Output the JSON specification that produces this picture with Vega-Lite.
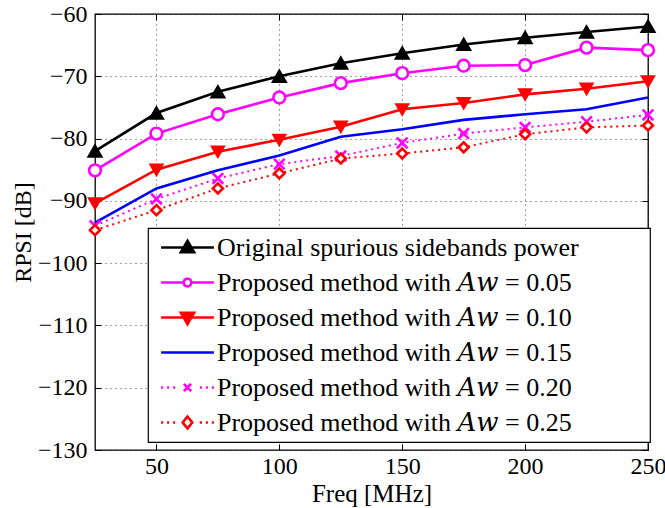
{
  "$schema": "https://vega.github.io/schema/vega-lite/v6.json",
  "autosize": "none",
  "width": 553,
  "height": 436,
  "padding": {"left": 95, "top": 14, "right": 17, "bottom": 58},
  "config": {
    "font": "Liberation Serif",
    "view": {"stroke": "black", "strokeWidth": 1.3},
    "axis": {"labelFont": "Liberation Serif", "titleFont": "Liberation Serif", "labelFontSize": 24, "titleFontSize": 24, "titleFontWeight": "normal", "labelColor": "black", "titleColor": "black", "domain": false, "tickColor": "black", "tickWidth": 1, "gridColor": "black", "gridOpacity": 0.75, "gridDash": [1, 4], "gridWidth": 1, "labelFlush": false}
  },
  "data": {"values": [
    {"f": 25, "v": -82.0, "s": "Original spurious sidebands power"},
    {"f": 50, "v": -75.9, "s": "Original spurious sidebands power"},
    {"f": 75, "v": -72.5, "s": "Original spurious sidebands power"},
    {"f": 100, "v": -70.0, "s": "Original spurious sidebands power"},
    {"f": 125, "v": -67.9, "s": "Original spurious sidebands power"},
    {"f": 150, "v": -66.3, "s": "Original spurious sidebands power"},
    {"f": 175, "v": -64.9, "s": "Original spurious sidebands power"},
    {"f": 200, "v": -63.8, "s": "Original spurious sidebands power"},
    {"f": 225, "v": -62.9, "s": "Original spurious sidebands power"},
    {"f": 250, "v": -62.0, "s": "Original spurious sidebands power"},
    {"f": 25, "v": -85.1, "s": "Proposed method with 𝐴𝑤 = 0.05"},
    {"f": 50, "v": -79.2, "s": "Proposed method with 𝐴𝑤 = 0.05"},
    {"f": 75, "v": -76.1, "s": "Proposed method with 𝐴𝑤 = 0.05"},
    {"f": 100, "v": -73.4, "s": "Proposed method with 𝐴𝑤 = 0.05"},
    {"f": 125, "v": -71.1, "s": "Proposed method with 𝐴𝑤 = 0.05"},
    {"f": 150, "v": -69.5, "s": "Proposed method with 𝐴𝑤 = 0.05"},
    {"f": 175, "v": -68.3, "s": "Proposed method with 𝐴𝑤 = 0.05"},
    {"f": 200, "v": -68.2, "s": "Proposed method with 𝐴𝑤 = 0.05"},
    {"f": 225, "v": -65.4, "s": "Proposed method with 𝐴𝑤 = 0.05"},
    {"f": 250, "v": -65.8, "s": "Proposed method with 𝐴𝑤 = 0.05"},
    {"f": 25, "v": -90.4, "s": "Proposed method with 𝐴𝑤 = 0.10"},
    {"f": 50, "v": -85.0, "s": "Proposed method with 𝐴𝑤 = 0.10"},
    {"f": 75, "v": -82.1, "s": "Proposed method with 𝐴𝑤 = 0.10"},
    {"f": 100, "v": -80.2, "s": "Proposed method with 𝐴𝑤 = 0.10"},
    {"f": 125, "v": -78.1, "s": "Proposed method with 𝐴𝑤 = 0.10"},
    {"f": 150, "v": -75.3, "s": "Proposed method with 𝐴𝑤 = 0.10"},
    {"f": 175, "v": -74.3, "s": "Proposed method with 𝐴𝑤 = 0.10"},
    {"f": 200, "v": -72.9, "s": "Proposed method with 𝐴𝑤 = 0.10"},
    {"f": 225, "v": -72.0, "s": "Proposed method with 𝐴𝑤 = 0.10"},
    {"f": 250, "v": -70.8, "s": "Proposed method with 𝐴𝑤 = 0.10"},
    {"f": 25, "v": -93.5, "s": "Proposed method with 𝐴𝑤 = 0.15"},
    {"f": 50, "v": -88.0, "s": "Proposed method with 𝐴𝑤 = 0.15"},
    {"f": 75, "v": -85.1, "s": "Proposed method with 𝐴𝑤 = 0.15"},
    {"f": 100, "v": -82.7, "s": "Proposed method with 𝐴𝑤 = 0.15"},
    {"f": 125, "v": -79.7, "s": "Proposed method with 𝐴𝑤 = 0.15"},
    {"f": 150, "v": -78.5, "s": "Proposed method with 𝐴𝑤 = 0.15"},
    {"f": 175, "v": -77.0, "s": "Proposed method with 𝐴𝑤 = 0.15"},
    {"f": 200, "v": -76.1, "s": "Proposed method with 𝐴𝑤 = 0.15"},
    {"f": 225, "v": -75.3, "s": "Proposed method with 𝐴𝑤 = 0.15"},
    {"f": 250, "v": -73.4, "s": "Proposed method with 𝐴𝑤 = 0.15"},
    {"f": 25, "v": -94.0, "s": "Proposed method with 𝐴𝑤 = 0.20"},
    {"f": 50, "v": -89.7, "s": "Proposed method with 𝐴𝑤 = 0.20"},
    {"f": 75, "v": -86.4, "s": "Proposed method with 𝐴𝑤 = 0.20"},
    {"f": 100, "v": -84.1, "s": "Proposed method with 𝐴𝑤 = 0.20"},
    {"f": 125, "v": -82.8, "s": "Proposed method with 𝐴𝑤 = 0.20"},
    {"f": 150, "v": -80.7, "s": "Proposed method with 𝐴𝑤 = 0.20"},
    {"f": 175, "v": -79.2, "s": "Proposed method with 𝐴𝑤 = 0.20"},
    {"f": 200, "v": -78.2, "s": "Proposed method with 𝐴𝑤 = 0.20"},
    {"f": 225, "v": -77.3, "s": "Proposed method with 𝐴𝑤 = 0.20"},
    {"f": 250, "v": -76.2, "s": "Proposed method with 𝐴𝑤 = 0.20"},
    {"f": 25, "v": -94.7, "s": "Proposed method with 𝐴𝑤 = 0.25"},
    {"f": 50, "v": -91.5, "s": "Proposed method with 𝐴𝑤 = 0.25"},
    {"f": 75, "v": -88.0, "s": "Proposed method with 𝐴𝑤 = 0.25"},
    {"f": 100, "v": -85.6, "s": "Proposed method with 𝐴𝑤 = 0.25"},
    {"f": 125, "v": -83.2, "s": "Proposed method with 𝐴𝑤 = 0.25"},
    {"f": 150, "v": -82.4, "s": "Proposed method with 𝐴𝑤 = 0.25"},
    {"f": 175, "v": -81.4, "s": "Proposed method with 𝐴𝑤 = 0.25"},
    {"f": 200, "v": -79.3, "s": "Proposed method with 𝐴𝑤 = 0.25"},
    {"f": 225, "v": -78.2, "s": "Proposed method with 𝐴𝑤 = 0.25"},
    {"f": 250, "v": -77.9, "s": "Proposed method with 𝐴𝑤 = 0.25"}
  ]},
  "layer": [
    {
      "transform": [{"filter": "indexof(['er','05','10','15'], slice(datum.s, -2)) >= 0"}],
      "mark": {"type": "line", "strokeWidth": 2.6},
      "encoding": {
        "x": {"field": "f", "type": "quantitative", "scale": {"domain": [25, 250], "nice": false, "zero": false}, "axis": {"orient": "bottom", "title": "Freq [MHz]", "values": [50, 100, 150, 200, 250], "grid": true, "tickSize": -6, "labelPadding": 10, "titlePadding": 3, "titleFontSize": 25}},
        "y": {"field": "v", "type": "quantitative", "scale": {"domain": [-130, -60], "nice": false, "zero": false}, "axis": {"orient": "left", "title": "RPSI [dB]", "values": [-130, -120, -110, -100, -90, -80, -70, -60], "grid": true, "tickSize": -6, "labelPadding": 14, "titlePadding": 2}},
        "color": {
          "field": "s", "type": "nominal",
          "scale": {"domain": ["Original spurious sidebands power", "Proposed method with 𝐴𝑤 = 0.05", "Proposed method with 𝐴𝑤 = 0.10", "Proposed method with 𝐴𝑤 = 0.15", "Proposed method with 𝐴𝑤 = 0.20", "Proposed method with 𝐴𝑤 = 0.25"], "range": ["#000000", "#ff00ff", "#ff0000", "#0000ff", "#ff00ff", "#ff0000"]},
          "legend": {
            "title": null, "orient": "none", "legendX": 53, "legendY": 214,
            "fillColor": "white", "strokeColor": "black", "padding": 6, "rowPadding": 8,
            "symbolOffset": 20, "labelOffset": 16, "symbolSize": 576,
            "labelFont": "Liberation Serif, DejaVu Serif", "labelFontSize": 26, "labelColor": "black", "labelLimit": 800,
            "labelExpr": "datum.label + '\u2003\u2003\u2005\u2005\u200b'",
            "encode": {
              "legend": {"update": {"strokeWidth": {"value": 1.2}}},
              "symbols": {"update": {
                "shape": {"signal": "['M-2.2,0H2.2M0,-0.55L0.55,0.4L-0.55,0.4Z','M-2.2,0H-0.32M0.32,0H2.2M-0.32,0A0.32,0.32,0,1,0,0.32,0A0.32,0.32,0,1,0,-0.32,0Z','M-2.2,0H2.2M-0.55,-0.4L0.55,-0.4L0,0.55Z','M-2.2,0H2.2','M-2.2,0H-2.03M-1.7,0H-1.53M-1.2,0H-1.03M1.03,0H1.2M1.53,0H1.7M2.03,0H2.2M-0.3,-0.3L0.3,0.3M-0.3,0.3L0.3,-0.3','M-2.2,0H-2.03M-1.7,0H-1.53M-1.2,0H-1.03M1.03,0H1.2M1.53,0H1.7M2.03,0H2.2M0,-0.5L0.4,0L0,0.5L-0.4,0Z'][indexof(['er','05','10','15','20','25'], slice(datum.value, -2))]"},
                "fill": {"signal": "['#000000','#ffffff','#ff0000','transparent','transparent','#ffffff'][indexof(['er','05','10','15','20','25'], slice(datum.value, -2))]"},
                "stroke": {"signal": "['#000000','#ff00ff','#ff0000','#0000ff','#ff00ff','#ff0000'][indexof(['er','05','10','15','20','25'], slice(datum.value, -2))]"},
                "strokeWidth": {"value": 2.6},
                "strokeDash": {"value": [1, 0]},
                "size": {"value": 576},
                "opacity": {"value": 1}
              }}
            }
          }
        }
      }
    },
    {
      "transform": [{"filter": "indexof(['20','25'], slice(datum.s, -2)) >= 0"}],
      "mark": {"type": "line", "strokeWidth": 2, "strokeDash": [2, 4]},
      "encoding": {
        "x": {"field": "f", "type": "quantitative", "axis": null},
        "y": {"field": "v", "type": "quantitative", "axis": null},
        "color": {"field": "s", "type": "nominal"}
      }
    },
    {
      "transform": [{"filter": "slice(datum.s, -2) != '15'"}],
      "mark": {"type": "point", "strokeWidth": 2.6, "opacity": 1},
      "encoding": {
        "x": {"field": "f", "type": "quantitative", "axis": {"orient": "top", "labels": false, "grid": false, "title": null, "values": [50, 100, 150, 200, 250], "tickSize": -6}},
        "y": {"field": "v", "type": "quantitative", "axis": {"orient": "right", "labels": false, "grid": false, "title": null, "values": [-130, -120, -110, -100, -90, -80, -70, -60], "tickSize": -6}},
        "shape": {"field": "s", "type": "nominal", "legend": null, "scale": {"domain": ["Original spurious sidebands power", "Proposed method with 𝐴𝑤 = 0.05", "Proposed method with 𝐴𝑤 = 0.10", "Proposed method with 𝐴𝑤 = 0.20", "Proposed method with 𝐴𝑤 = 0.25"], "range": ["triangle-up", "circle", "triangle-down", "M-1,-1L1,1M-1,1L1,-1", "diamond"]}},
        "stroke": {"field": "s", "type": "nominal", "legend": null, "scale": {"domain": ["Original spurious sidebands power", "Proposed method with 𝐴𝑤 = 0.05", "Proposed method with 𝐴𝑤 = 0.10", "Proposed method with 𝐴𝑤 = 0.20", "Proposed method with 𝐴𝑤 = 0.25"], "range": ["#000000", "#ff00ff", "#ff0000", "#ff00ff", "#ff0000"]}},
        "fill": {"field": "s", "type": "nominal", "legend": null, "scale": {"domain": ["Original spurious sidebands power", "Proposed method with 𝐴𝑤 = 0.05", "Proposed method with 𝐴𝑤 = 0.10", "Proposed method with 𝐴𝑤 = 0.20", "Proposed method with 𝐴𝑤 = 0.25"], "range": ["#000000", "#ffffff", "#ff0000", "transparent", "#ffffff"]}},
        "size": {"field": "s", "type": "nominal", "legend": null, "scale": {"domain": ["Original spurious sidebands power", "Proposed method with 𝐴𝑤 = 0.05", "Proposed method with 𝐴𝑤 = 0.10", "Proposed method with 𝐴𝑤 = 0.20", "Proposed method with 𝐴𝑤 = 0.25"], "range": [150, 100, 150, 30, 110]}}
      }
    }
  ]
}
